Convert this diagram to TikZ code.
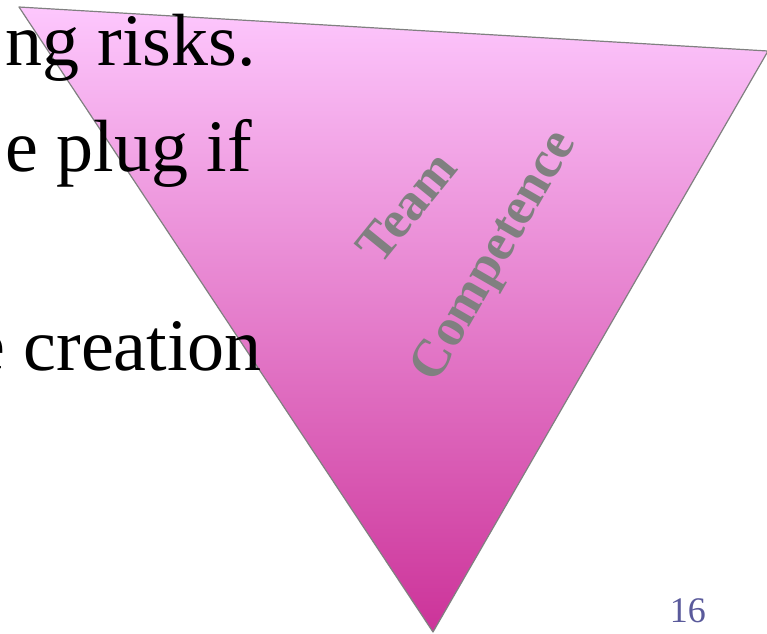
\documentclass[tikz,border=0pt]{standalone}
\usepackage{fontspec}
\setmainfont{Liberation Serif}
\definecolor{tritop}{RGB}{253,199,253}
\definecolor{trimid}{RGB}{234,154,213}
\definecolor{tribot}{RGB}{204,51,153}
\definecolor{triedge}{RGB}{128,128,128}
\definecolor{pagenum}{RGB}{90,90,155}

\begin{document}
\begin{tikzpicture}[x=1pt,y=-1pt,
    bodytext/.style={anchor=base east,inner sep=0pt,font=\fontsize{74}{80}\selectfont},
    tritext/.style={anchor=base,inner sep=0pt,text=triedge,font=\fontsize{53}{58}\selectfont\bfseries}]

\useasboundingbox (0,0) rectangle (767,633);
\clip (0,0) rectangle (767,633);

\coordinate (tl) at (19,7);
\coordinate (tr) at (768,51);
\coordinate (apex) at (433,632);

\shade [top color=tritop,middle color=trimid,bottom color=tribot] (tl) -- (tr) -- (apex) -- cycle;
\draw [triedge,line width=1.2pt,line join=round] (tl) -- (tr) -- (apex) -- cycle;

\foreach \x/\y/\t [count=\i] in {256/65/ng risks., 252/171/e plug if, 262/370/e creation}
{
    \node [bodytext] (line\i) at (\x,\y) {\t};
}

\node [tritext,rotate=51] (team) at (420,218) {Team};
\node [tritext,rotate=60] (competence) at (506,263) {Competence};

\node [anchor=base east,inner sep=0pt,text=pagenum,font=\fontsize{36}{40}\selectfont] (slidenum) at (706,622) {16};

\end{tikzpicture}
\end{document}
